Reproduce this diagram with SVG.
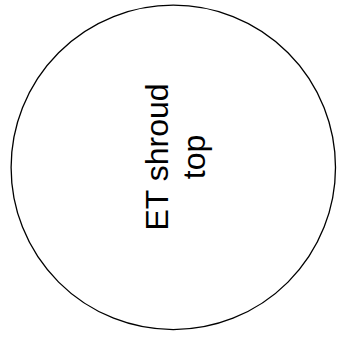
<svg xmlns="http://www.w3.org/2000/svg" width="343" height="339" viewBox="0 0 343 339">
<style>
.node-shape{fill:#ffffff;stroke:#000000;stroke-width:1.3}
.label{font-family:"Liberation Sans",Arial,sans-serif;font-size:32px;fill:#000000;text-anchor:middle}
</style>
<rect width="343" height="339" fill="#ffffff"/>
<g id="connectors"></g>
<g id="node-et-shroud-top">
<circle class="node-shape" cx="173.3" cy="167.4" r="162.2"/>
<text class="label" transform="translate(168.3,157) rotate(-90)"><tspan x="0" y="0">ET shroud</tspan><tspan x="0" y="36.8">top</tspan></text>
</g>
</svg>
